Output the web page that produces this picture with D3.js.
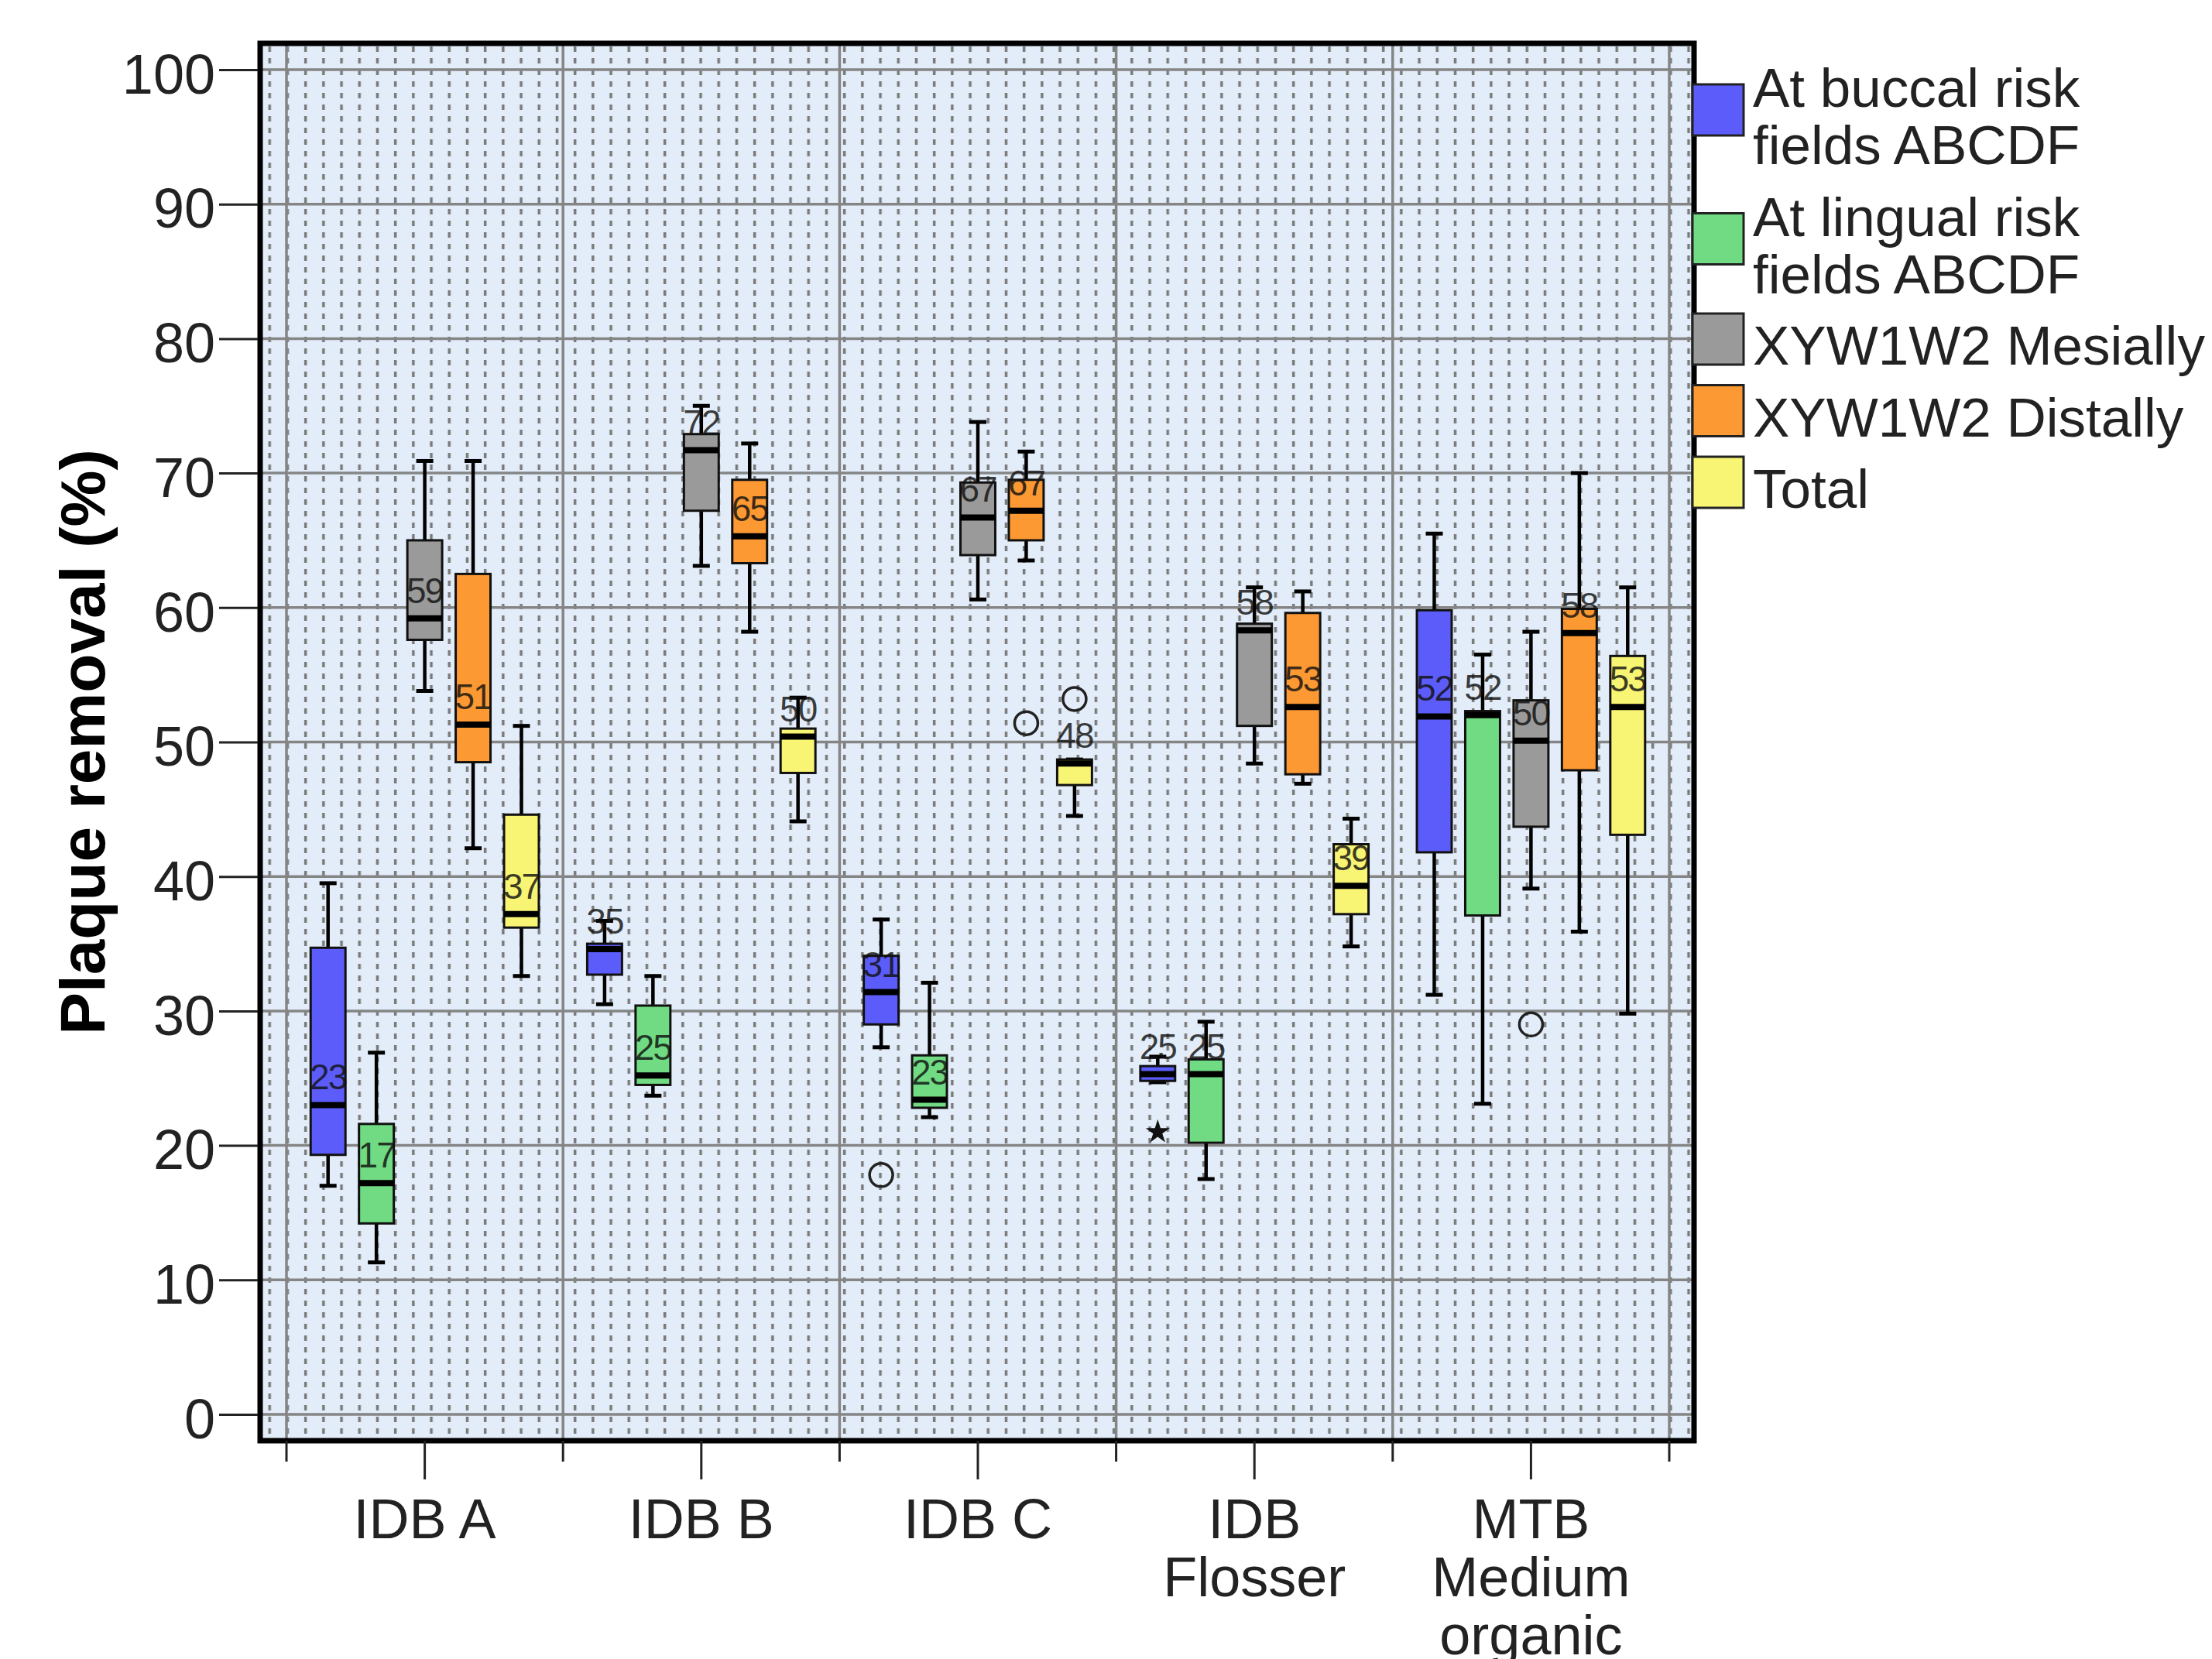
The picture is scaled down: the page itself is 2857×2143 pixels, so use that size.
<!DOCTYPE html>
<html>
<head>
<meta charset="utf-8">
<script src="https://cdn.jsdelivr.net/npm/d3@7"></script>
<style>
  html, body { margin: 0; padding: 0; background: #fff; }
  svg { display: block; font-family: 'Liberation Sans', Arial, sans-serif; }
</style>
</head>
<body>
<svg id="chart" width="2857" height="2143"></svg>
<script>
const categories = ['IDB A', 'IDB B', 'IDB C', 'IDB Flosser', 'MTB Medium organic'];
const categoryLines = [['IDB A'], ['IDB B'], ['IDB C'], ['IDB', 'Flosser'], ['MTB', 'Medium', 'organic']];

const seriesKeys = ['buccal', 'lingual', 'mesially', 'distally', 'total'];
const seriesLabels = [
  ['At buccal risk', 'fields ABCDF'],
  ['At lingual risk', 'fields ABCDF'],
  ['XYW1W2 Mesially'],
  ['XYW1W2 Distally'],
  ['Total']
];
const seriesColors = ['#5c5cfb', '#70db82', '#9a9a9a', '#fd9933', '#f9f574'];

// [min, q1, median, q3, max] for each category
const buccal = [[17.0, 19.3, 23.0, 34.7, 39.5], [30.5, 32.7, 34.6, 35.0, 36.7], [27.3, 29.0, 31.4, 34.1, 36.8], [24.7, 24.8, 25.3, 25.9, 26.6], [31.2, 41.8, 51.9, 59.8, 65.5]];
const lingual = [[11.3, 14.2, 17.2, 21.6, 26.9], [23.7, 24.5, 25.2, 30.4, 32.6], [22.1, 22.8, 23.4, 26.7, 32.1], [17.5, 20.2, 25.3, 26.4, 29.2], [23.1, 37.1, 52.0, 52.3, 56.5]];
const mesially = [[53.8, 57.6, 59.2, 65.0, 70.9], [63.1, 67.2, 71.7, 72.9, 75.0], [60.6, 63.9, 66.7, 69.3, 73.8], [48.4, 51.2, 58.3, 58.8, 61.5], [39.1, 43.7, 50.1, 53.1, 58.2]];
const distally = [[42.1, 48.5, 51.3, 62.5, 70.9], [58.2, 63.3, 65.3, 69.5, 72.2], [63.5, 65.0, 67.2, 69.5, 71.6], [46.9, 47.6, 52.6, 59.6, 61.2], [35.9, 47.9, 58.1, 59.9, 70.0]];
const total = [[32.6, 36.2, 37.2, 44.6, 51.2], [44.1, 47.7, 50.4, 51.0, 53.3], [44.5, 46.8, 48.4, 48.7, 48.7], [34.8, 37.2, 39.3, 42.4, 44.3], [29.8, 43.1, 52.6, 56.4, 61.5]];

const outliers = [
  { series: 'buccal', category: 'IDB C', value: 17.8, shape: 'circle' },
  { series: 'buccal', category: 'IDB Flosser', value: 21.0, shape: 'star' },
  { series: 'distally', category: 'IDB C', value: 51.4, shape: 'circle' },
  { series: 'total', category: 'IDB C', value: 53.2, shape: 'circle' },
  { series: 'mesially', category: 'MTB Medium organic', value: 29.0, shape: 'circle' }
];

const yTicks = [0, 10, 20, 30, 40, 50, 60, 70, 80, 90, 100];

const seriesValues = { buccal, lingual, mesially, distally, total };

const boxes = [];
seriesKeys.forEach((key, si) => {
  seriesValues[key].forEach((v, ci) => {
    boxes.push({ series: key, color: seriesColors[si], category: categories[ci], min: v[0], q1: v[1], median: v[2], q3: v[3], max: v[4] });
  });
});

const frame = { left: 336, top: 56, right: 2188, bottom: 1861 };

const x = d3.scaleBand().domain(categories).range([370, 2156]).padding(0);
const xSub = d3.scaleBand().domain(seriesKeys).range([0, x.bandwidth()]).paddingInner(0.28).paddingOuter(0.5);
const y = d3.scaleLinear().domain([0, 100]).range([1827, 90]);

const svg = d3.select('#chart');
const defs = svg.append('defs');

defs.append('clipPath').attr('id', 'plotClip')
  .append('rect')
  .attr('x', frame.left).attr('y', frame.top)
  .attr('width', frame.right - frame.left).attr('height', frame.bottom - frame.top);

const pattern = defs.append('pattern')
  .attr('id', 'dots')
  .attr('patternUnits', 'userSpaceOnUse')
  .attr('x', frame.left).attr('y', frame.top)
  .attr('width', 23.2).attr('height', 15);
pattern.append('rect')
  .attr('x', 10.5).attr('y', 4)
  .attr('width', 3.5).attr('height', 7)
  .attr('fill', '#7a7a7a');

const plot = svg.append('g').attr('clip-path', 'url(#plotClip)');

plot.append('rect')
  .attr('x', frame.left).attr('y', frame.top)
  .attr('width', frame.right - frame.left).attr('height', frame.bottom - frame.top)
  .attr('fill', '#e3edf9');
plot.append('rect')
  .attr('x', frame.left).attr('y', frame.top)
  .attr('width', frame.right - frame.left).attr('height', frame.bottom - frame.top)
  .attr('fill', 'url(#dots)');

// grid
plot.selectAll('.hgrid').data(yTicks).enter().append('line')
  .attr('class', 'hgrid')
  .attr('x1', frame.left).attr('x2', frame.right)
  .attr('y1', d => y(d)).attr('y2', d => y(d))
  .attr('stroke', '#858585').attr('stroke-width', 3.5);

const bounds = categories.map(c => x(c)).concat([x.range()[1]]);
plot.selectAll('.vgrid').data(bounds).enter().append('line')
  .attr('class', 'vgrid')
  .attr('x1', d => d).attr('x2', d => d)
  .attr('y1', frame.top).attr('y2', frame.bottom)
  .attr('stroke', '#858585').attr('stroke-width', 3.5);

// boxes
const cx = d => x(d.category) + xSub(d.series) + xSub.bandwidth() / 2;
const capW = 22;

const gBox = plot.selectAll('.box').data(boxes).enter().append('g').attr('class', 'box');

gBox.append('line')
  .attr('x1', cx).attr('x2', cx)
  .attr('y1', d => y(d.max)).attr('y2', d => y(d.min))
  .attr('stroke', '#000').attr('stroke-width', 4.5);
gBox.append('line')
  .attr('x1', d => cx(d) - capW / 2).attr('x2', d => cx(d) + capW / 2)
  .attr('y1', d => y(d.max)).attr('y2', d => y(d.max))
  .attr('stroke', '#000').attr('stroke-width', 5);
gBox.append('line')
  .attr('x1', d => cx(d) - capW / 2).attr('x2', d => cx(d) + capW / 2)
  .attr('y1', d => y(d.min)).attr('y2', d => y(d.min))
  .attr('stroke', '#000').attr('stroke-width', 5);

gBox.append('rect')
  .attr('x', d => x(d.category) + xSub(d.series))
  .attr('y', d => y(d.q3))
  .attr('width', xSub.bandwidth())
  .attr('height', d => Math.max(1, y(d.q1) - y(d.q3)))
  .attr('fill', d => d.color)
  .attr('stroke', '#111').attr('stroke-width', 3);

gBox.append('line')
  .attr('x1', d => x(d.category) + xSub(d.series)).attr('x2', d => x(d.category) + xSub(d.series) + xSub.bandwidth())
  .attr('y1', d => y(d.median)).attr('y2', d => y(d.median))
  .attr('stroke', '#000').attr('stroke-width', 8);

gBox.append('text')
  .attr('x', cx)
  .attr('y', d => y(d.median) - 20)
  .attr('text-anchor', 'middle')
  .attr('font-size', 46)
  .attr('letter-spacing', -2)
  .attr('fill', '#111')
  .attr('fill-opacity', 0.82)
  .text(d => Math.round(d.median));

// outliers
const oPos = d => [x(d.category) + xSub(d.series) + xSub.bandwidth() / 2, y(d.value)];
plot.selectAll('.outlier').data(outliers.filter(d => d.shape === 'circle')).enter().append('circle')
  .attr('class', 'outlier')
  .attr('cx', d => oPos(d)[0]).attr('cy', d => oPos(d)[1])
  .attr('r', 15)
  .attr('fill', 'none').attr('stroke', '#222').attr('stroke-width', 3.5);
plot.selectAll('.extreme').data(outliers.filter(d => d.shape === 'star')).enter().append('path')
  .attr('class', 'extreme')
  .attr('transform', d => `translate(${oPos(d)[0]},${oPos(d)[1]})`)
  .attr('d', d3.symbol().type(d3.symbolStar).size(300))
  .attr('fill', '#111');

// frame
svg.append('rect')
  .attr('x', frame.left).attr('y', frame.top)
  .attr('width', frame.right - frame.left).attr('height', frame.bottom - frame.top)
  .attr('fill', 'none').attr('stroke', '#000').attr('stroke-width', 7);

// y axis
const yAxis = d3.axisLeft(y).tickValues(yTicks).tickSize(50).tickPadding(5);
const gy = svg.append('g')
  .attr('transform', `translate(${frame.left - 3},0)`)
  .call(yAxis);
gy.select('.domain').remove();
gy.selectAll('.tick line').attr('stroke', '#222').attr('stroke-width', 3);
gy.selectAll('.tick text')
  .attr('font-size', 72)
  .attr('font-family', "'Liberation Sans', Arial, sans-serif")
  .attr('fill', '#222')
  .attr('dy', '0.42em');

// x axis
const xAxis = d3.axisBottom(x).tickSize(50).tickFormat('');
const gx = svg.append('g')
  .attr('transform', `translate(0,${frame.bottom})`)
  .call(xAxis);
gx.select('.domain').remove();
gx.selectAll('.tick line').attr('stroke', '#222').attr('stroke-width', 3);
gx.selectAll('.minor').data(bounds).enter().append('line')
  .attr('class', 'minor')
  .attr('x1', d => d).attr('x2', d => d)
  .attr('y1', 0).attr('y2', 27)
  .attr('stroke', '#222').attr('stroke-width', 3);

gx.selectAll('.xlabel').data(categories).enter().append('text')
  .attr('class', 'xlabel')
  .attr('x', d => x(d) + x.bandwidth() / 2)
  .attr('y', 126)
  .attr('text-anchor', 'middle')
  .attr('font-size', 72)
  .attr('fill', '#222')
  .each(function(d, i) {
    d3.select(this).selectAll('tspan').data(categoryLines[i]).enter().append('tspan')
      .attr('x', x(d) + x.bandwidth() / 2)
      .attr('dy', (t, j) => j === 0 ? 0 : 75)
      .text(t => t);
  });

// y title
svg.append('text')
  .attr('transform', `translate(135,${(y(0) + y(100)) / 2}) rotate(-90)`)
  .attr('text-anchor', 'middle')
  .attr('font-size', 82)
  .attr('font-weight', 'bold')
  .attr('fill', '#000')
  .text('Plaque removal (%)');

// legend
const legend = svg.append('g');
let baseline = 138;
seriesLabels.forEach((lines, i) => {
  const first = baseline;
  const last = baseline + (lines.length - 1) * 74;
  const mid = (first + last) / 2 - 33;
  legend.append('rect')
    .attr('x', 2186).attr('y', mid - 33)
    .attr('width', 66).attr('height', 66)
    .attr('fill', seriesColors[i])
    .attr('stroke', '#222').attr('stroke-width', 3);
  legend.append('text')
    .attr('x', 2264)
    .attr('y', first)
    .attr('font-size', 71)
    .attr('fill', '#222')
    .selectAll('tspan').data(lines).enter().append('tspan')
    .attr('x', 2264)
    .attr('dy', (t, j) => j === 0 ? 0 : 74)
    .text(t => t);
  baseline = last + 92.5;
});
</script>
</body>
</html>
